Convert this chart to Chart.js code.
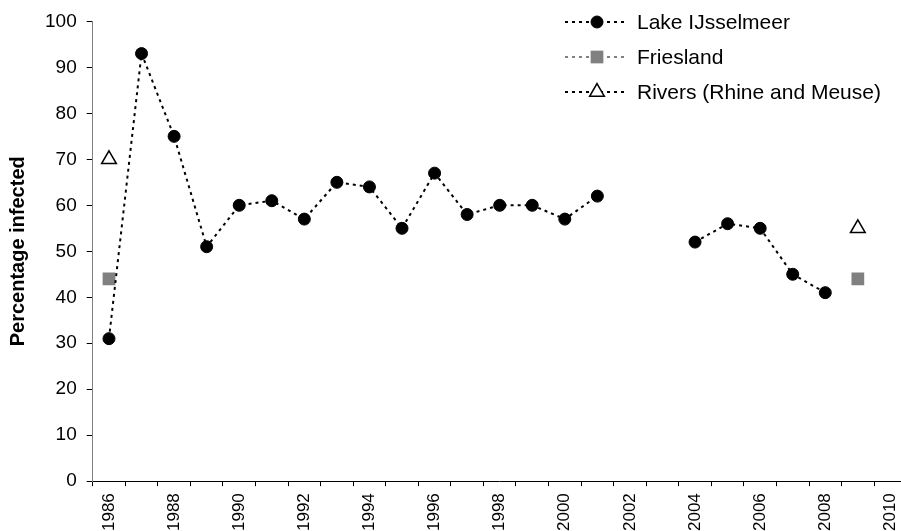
<!doctype html>
<html>
<head>
  <meta charset="utf-8">
  <title>Percentage infected</title>
  <script src="https://cdn.jsdelivr.net/npm/chart.js@4.4.1/dist/chart.umd.min.js"></script>
  <style>
    html, body {
      margin: 0;
      padding: 0;
      background: #fff;
      overflow: hidden;
    }
  </style>
</head>
<body>
  <canvas id="myChart" width="918" height="538"></canvas>
  <script>
    var years = ['1986', '1987', '1988', '1989', '1990', '1991', '1992', '1993', '1994', '1995',
      '1996', '1997', '1998', '1999', '2000', '2001', '2002', '2003', '2004', '2005',
      '2006', '2007', '2008', '2009', '2010'];
    var lakeIJsselmeer = [31, 93, 75, 51, 60, 61, 57, 65, 64, 55, 67, 58, 60, 60, 57, 62,
      null, null, 52, 56, 55, 45, 41, null, null];
    var friesland = [44, null, null, null, null, null, null, null, null, null, null, null, null,
      null, null, null, null, null, null, null, null, null, null, 44, null];
    var rivers = [70, null, null, null, null, null, null, null, null, null, null, null, null,
      null, null, null, null, null, null, null, null, null, null, 55, null];
    var seriesNames = ['Lake IJsselmeer', 'Friesland', 'Rivers (Rhine and Meuse)'];
    var yTicks = [0, 10, 20, 30, 40, 50, 60, 70, 80, 90, 100];

    var FONT = '"Liberation Sans", Arial, sans-serif';

    // legend drawn like the spreadsheet one: dashed line with the marker in the middle
    var lineLegend = {
      id: 'lineLegend',
      afterDraw: function(chart) {
        var ctx = chart.ctx;
        chart.data.datasets.forEach(function(ds, i) {
          var y = 22 + i * 35;
          ctx.save();
          ctx.strokeStyle = ds.borderColor;
          ctx.lineWidth = ds.borderWidth;
          ctx.setLineDash(ds.borderDash);
          ctx.beginPath();
          ctx.moveTo(565, y);
          ctx.lineTo(628, y);
          ctx.stroke();
          ctx.setLineDash([]);
          // drawPoint takes fill/stroke from the context
          ctx.fillStyle = ds.pointBackgroundColor;
          ctx.strokeStyle = ds.pointBorderColor;
          ctx.lineWidth = ds.pointBorderWidth;
          Chart.helpers.drawPoint(ctx, {
            pointStyle: ds.pointStyle,
            radius: ds.pointRadius,
            borderWidth: ds.pointBorderWidth,
            rotation: 0
          }, 597, y);
          ctx.restore();
          ctx.fillStyle = '#000';
          ctx.font = '21px ' + FONT;
          ctx.textAlign = 'left';
          ctx.textBaseline = 'middle';
          ctx.fillText(seriesNames[i], 637, y + 1);
        });
      }
    };

    var config = {
      type: 'line',
      data: {
        labels: years,
        datasets: [{
          label: seriesNames[0],
          data: lakeIJsselmeer,
          borderColor: '#000',
          borderWidth: 2,
          borderDash: [3, 4],
          pointStyle: 'circle',
          pointRadius: 6,
          pointBackgroundColor: '#000',
          pointBorderColor: '#000',
          pointBorderWidth: 1,
          spanGaps: false
        }, {
          label: seriesNames[1],
          data: friesland,
          borderColor: '#808080',
          borderWidth: 2,
          borderDash: [3, 4],
          pointStyle: 'rect',
          pointRadius: 9,
          pointBackgroundColor: '#808080',
          pointBorderColor: '#808080',
          pointBorderWidth: 0,
          spanGaps: false
        }, {
          label: seriesNames[2],
          data: rivers,
          borderColor: '#000',
          borderWidth: 2,
          borderDash: [3, 4],
          pointStyle: 'triangle',
          pointRadius: 8.5,
          pointBackgroundColor: '#fff',
          pointBorderColor: '#000',
          pointBorderWidth: 1.5,
          spanGaps: false
        }]
      },
      options: {
        responsive: false,
        animation: false,
        layout: {
          padding: { top: 21, left: 6, right: 0, bottom: 0 }
        },
        scales: {
          x: {
            type: 'category',
            offset: true,
            border: { color: '#000', width: 1 },
            grid: {
              offset: true,
              drawOnChartArea: false,
              drawTicks: true,
              tickLength: 5,
              color: '#000'
            },
            ticks: {
              autoSkip: false,
              maxRotation: 90,
              minRotation: 90,
              padding: 7,
              color: '#000',
              font: { family: FONT, size: 17 },
              callback: function(val, idx) {
                return idx % 2 === 0 ? years[idx] : '';
              }
            }
          },
          y: {
            min: 0,
            max: 100,
            border: { color: '#808080', width: 1 },
            grid: {
              drawOnChartArea: false,
              tickLength: 6,
              color: '#000'
            },
            afterBuildTicks: function(axis) {
              axis.ticks = yTicks.map(function(v) { return { value: v }; });
            },
            ticks: {
              padding: 10,
              color: '#000',
              font: { family: FONT, size: 19 }
            },
            title: {
              display: true,
              text: 'Percentage infected',
              color: '#000',
              font: { family: FONT, size: 20, weight: 'bold' },
              padding: { top: 0, bottom: 5 }
            }
          }
        },
        plugins: {
          legend: { display: false },
          tooltip: { enabled: false }
        }
      },
      plugins: [lineLegend]
    };

    var ctx = document.getElementById('myChart').getContext('2d');
    window.myChart = new Chart(ctx, config);
  </script>
</body>
</html>
